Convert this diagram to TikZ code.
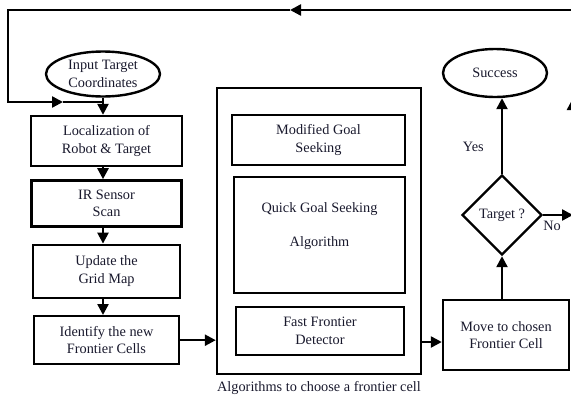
\documentclass[tikz,border=0pt]{standalone}
\usepackage{fontspec}
\setmainfont{Liberation Serif}
\usetikzlibrary{
	arrows.meta,shapes,positioning,calc
}
\definecolor{inkcol}{RGB}{25,25,45}
\tikzset{
	stepbox/.style={
		rectangle, draw=black, line width=2.4pt, fill=white,
		text=inkcol, align=center, inner sep=0pt
	},
	%
	bigbox/.style={
		rectangle, draw=black, line width=2.4pt, inner sep=0pt
	},
	%
	terminal/.style={
		ellipse, draw=black, line width=2.4pt, fill=white,
		text=inkcol, align=center, inner sep=0pt
	},
	%
	decision/.style={
		diamond, draw=black, line width=2.4pt, fill=white, aspect=1,
		text=inkcol, inner sep=0pt, minimum width=80pt, minimum height=80pt
	},
	%
	flow/.style={
		draw=black, line width=2.4pt, -{Triangle[length=11pt,width=11pt]}
	},
	%
	flowline/.style={
		draw=black, line width=2.4pt
	},
	%
	mytextbox/.style={
		text=inkcol, inner sep=1pt
	}
}

\begin{document}
\begin{tikzpicture}[x=1pt, y=-1pt, font=\fontsize{14.3}{17.5}\selectfont]
    \useasboundingbox (0,0) rectangle (571,397);
    \clip (0,0) rectangle (571,397);
    % left column
    \node(Input)[terminal, minimum width=114pt, minimum height=45pt] at (103,74) {Input Target\\Coordinates};
    \node(Loc)[stepbox, minimum width=151pt, minimum height=50pt] at (106.5,141) {Localization of\\Robot \& Target};
    \node(IR)[stepbox, minimum width=150pt, minimum height=46pt, below=12pt of Loc] {IR Sensor\\Scan};
    \node(Grid)[stepbox, minimum width=147pt, minimum height=53pt, below=16pt of IR] {Update the\\Grid Map};
    \node(Ident)[stepbox, minimum width=145pt, minimum height=48pt, below=16pt of Grid] {Identify the new\\Frontier Cells};
    % algorithms
    \node(Algo)[bigbox, minimum width=204pt, minimum height=286pt] at (319,231) {};
    \node(MGS)[stepbox, minimum width=173pt, minimum height=50pt] at (318.5,140) {Modified Goal\\Seeking};
    \node(QGS)[stepbox, minimum width=171pt, minimum height=116pt] at (319.5,235) {Quick Goal Seeking\\[17pt]Algorithm\\[3pt]~};
    \node(FFD)[stepbox, minimum width=168pt, minimum height=48pt] at (320,331) {Fast Frontier\\Detector};
    \node(Caption)[mytextbox, below=5pt of Algo] {Algorithms to choose a frontier cell};
    % right column
    \node(Move)[stepbox, minimum width=126pt, minimum height=70pt] at (506,335) {Move to chosen\\Frontier Cell};
    \node(Tgt)[decision] at (502,215) {Target ?};
    \node(Succ)[terminal, minimum width=104pt, minimum height=48pt] at (495,73) {Success};
    % connectors
    \draw[flow] (Input.south) -- (Loc.north -| Input);
    \draw[flow] (Loc.south -| Input) -- (IR.north -| Input);
    \draw[flow] (IR.south -| Input) -- (Grid.north -| Input);
    \draw[flow] (Grid.south -| Input) -- (Ident.north -| Input);
    \draw[flow] (Ident.east) -- (Ident.east -| Algo.west);
    \coordinate(MoveIn) at ($(Move.west)+(0,7)$);
    \draw[flow] (Algo.east |- MoveIn) -- (MoveIn);
    \draw[flow] (Move.north -| Tgt) -- (Tgt.south);
    \draw[flow] (Tgt.north) -- node[mytextbox, pos=0.35, left=16pt] {Yes} (Tgt.north |- Succ.south);
    % feedback loop
    \coordinate(NoEnd) at (573,215);
    \coordinate(UpMid) at (573,98);
    \coordinate(TopRight) at (573,10);
    \coordinate(TopMid) at (290,10);
    \coordinate(TopLeft) at (8,10);
    \coordinate(LeftLow) at (8,102);
    \coordinate(LeftMid) at (63,102);
    \draw[flow] (Tgt.east) -- node[mytextbox, pos=0.3, below=4pt] {No} (NoEnd);
    \draw[flow, -{Triangle[length=12pt,width=12pt]}] (NoEnd) -- (UpMid);
    \draw[flow] (UpMid) -- (TopRight) -- (TopMid);
    \draw[flow] (TopMid) -- (TopLeft) -- (LeftLow) -- (LeftMid);
    \draw[flowline] (LeftMid) -- (Input |- LeftLow);
\end{tikzpicture}
\end{document}
